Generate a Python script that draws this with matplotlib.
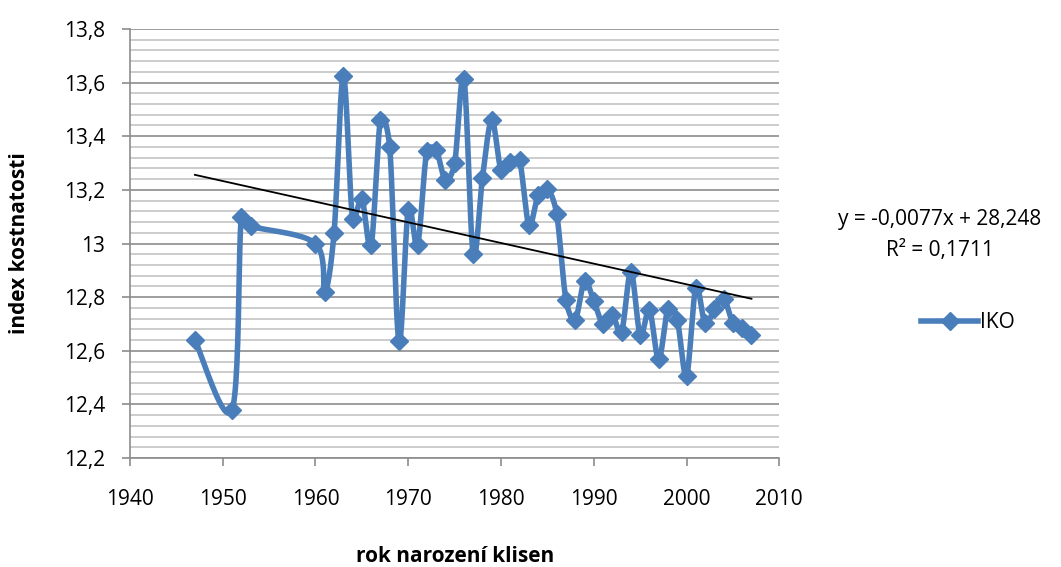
import numpy as np
import matplotlib.pyplot as plt
from matplotlib.ticker import MultipleLocator, FuncFormatter

plt.rcParams['font.family'] = ['Open Sans', 'DejaVu Sans']

# IKO by year of birth
years = [1947, 1951, 1952, 1953, 1960, 1961, 1962, 1963, 1964, 1965,
         1966, 1967, 1968, 1969, 1970, 1971, 1972, 1973, 1974, 1975,
         1976, 1977, 1978, 1979, 1980, 1981, 1982, 1983, 1984, 1985,
         1986, 1987, 1988, 1989, 1990, 1991, 1992, 1993, 1994, 1995,
         1996, 1997, 1998, 1999, 2000, 2001, 2002, 2003, 2004, 2005,
         2006, 2007]
iko = [12.64, 12.38, 13.10, 13.065, 13.00, 12.82, 13.04, 13.625, 13.09, 13.165,
       12.995, 13.46, 13.36, 12.635, 13.125, 12.995, 13.345, 13.35, 13.235, 13.30,
       13.615, 12.96, 13.245, 13.46, 13.275, 13.305, 13.31, 13.07, 13.18, 13.205,
       13.11, 12.79, 12.716, 12.86, 12.786, 12.70, 12.735, 12.672, 12.895, 12.66,
       12.752, 12.568, 12.756, 12.714, 12.508, 12.835, 12.702, 12.755, 12.795, 12.705,
       12.685, 12.66]

# linear trend as reported
slope = -0.0077
intercept = 28.248
r2 = 0.1711

blue = '#4A7EBB'
fs = 15


def smooth(x, y, sx=9.27, sy=267.5, n=24, cap=0.5):
    # Catmull-Rom bezier smoothing in screen units; control arms are
    # capped relative to the segment they belong to
    P = np.column_stack([np.asarray(x, float) * sx, np.asarray(y, float) * sy])
    P = np.vstack([P[0], P, P[-1]])
    t = np.linspace(0, 1, n)[:, None]

    def arm(v, seg):
        L = np.linalg.norm(v)
        lim = cap * seg
        return v * (lim / L) if L > lim and L > 0 else v

    out = []
    for i in range(1, len(P) - 2):
        p0, p1, p2, p3 = P[i - 1], P[i], P[i + 1], P[i + 2]
        d12 = np.linalg.norm(p2 - p1)
        c1 = p1 + arm((p2 - p0) / 6, d12)
        c2 = p2 - arm((p3 - p1) / 6, d12)
        b = ((1 - t) ** 3 * p1 + 3 * (1 - t) ** 2 * t * c1
             + 3 * (1 - t) * t ** 2 * c2 + t ** 3 * p2)
        out.append(b)
    B = np.vstack(out)
    return B[:, 0] / sx, B[:, 1] / sy


fig = plt.figure(figsize=(10.61, 5.67), dpi=100)
ax = fig.add_axes([0.1225, 0.192, 0.612, 0.757])

lx, ly = smooth(years, iko)
ax.plot(lx, ly, color=blue, lw=4, solid_capstyle='round',
        solid_joinstyle='round', zorder=3)
ax.plot(years, iko, ls='none', marker='D', ms=9.5, color=blue, zorder=4)

tx = np.array([min(years), max(years)])
ax.plot(tx, slope * tx + intercept, color='black', lw=1.3, zorder=5)

ax.set_xlim(1940, 2010)
ax.set_ylim(12.2, 13.8)
ax.xaxis.set_major_locator(MultipleLocator(10))
ax.yaxis.set_major_locator(MultipleLocator(0.2))
ax.yaxis.set_minor_locator(MultipleLocator(0.04))
ax.yaxis.set_major_formatter(FuncFormatter(lambda v, p: f'{v:g}'.replace('.', ',')))

ax.grid(True, which='major', axis='y', color='#8c8c8c', lw=1.2, zorder=0)
ax.grid(True, which='minor', axis='y', color='#c4c4c4', lw=1.2, zorder=0)
ax.set_axisbelow(True)

for s in ['top', 'right']:
    ax.spines[s].set_visible(False)
for s in ['left', 'bottom']:
    ax.spines[s].set_color('#8c8c8c')
    ax.spines[s].set_linewidth(1.2)
ax.tick_params(axis='both', which='major', direction='out', length=6,
               color='#8c8c8c', width=1.2, labelsize=fs)
ax.tick_params(axis='x', pad=16)
ax.tick_params(axis='y', pad=12)
ax.tick_params(axis='y', which='minor', length=0)

ax.set_xlabel('rok narození klisen', fontsize=fs, fontweight='bold', labelpad=26)
ax.set_ylabel('index kostnatosti', fontsize=fs, fontweight='bold', labelpad=24)

fig.text(0.886, 0.613, f'y = {slope:.4f}x + {intercept:.3f}'.replace('.', ','),
         ha='center', va='center', fontsize=fs)
fig.text(0.886, 0.558, f'R² = {r2:.4f}'.replace('.', ','),
         ha='center', va='center', fontsize=fs)

ax.legend([plt.Line2D([], [], color=blue, lw=4, marker='D', ms=9.5)], ['IKO'],
          loc='center left', bbox_to_anchor=(1.19, 0.315), frameon=False,
          fontsize=fs, handlelength=2.7, handletextpad=0.12)

fig.savefig('out.png', dpi=100)
